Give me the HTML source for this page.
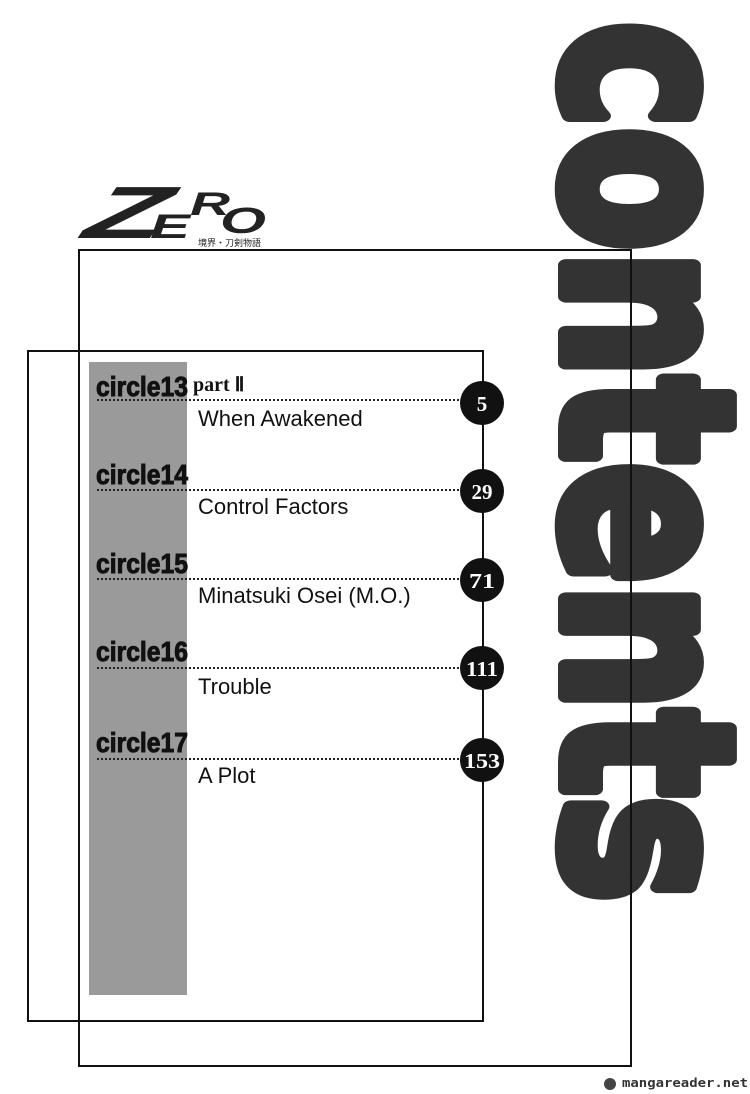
<!DOCTYPE html>
<html><head><meta charset="utf-8"><style>
html,body{margin:0;padding:0;background:#fff;}
svg{display:block;}
</style></head><body>
<svg width="750" height="1094" viewBox="0 0 750 1094" xmlns="http://www.w3.org/2000/svg">
<rect width="750" height="1094" fill="#fff"/>
<!-- contents vertical -->
<text transform="translate(566,22) rotate(90)" font-family="DejaVu Sans, Liberation Sans, sans-serif" font-weight="bold" font-size="232" fill="#333" stroke="#333" stroke-width="16" stroke-linejoin="round" textLength="880" lengthAdjust="spacingAndGlyphs">contents</text>
<!-- frames -->
<rect x="79" y="250" width="552" height="816" fill="none" stroke="#111" stroke-width="2"/>
<rect x="28" y="351" width="455" height="670" fill="none" stroke="#111" stroke-width="2"/>
<rect x="89" y="362" width="98" height="633" fill="#9a9a9a"/>
<!-- logo -->
<g font-family="Liberation Sans, sans-serif" font-weight="bold" font-style="italic" fill="#222">
<text x="84" y="238" font-size="74" transform="skewX(-18) translate(74,0)" textLength="80" lengthAdjust="spacingAndGlyphs">Z</text>
<text x="150" y="238" font-size="34" textLength="40" lengthAdjust="spacingAndGlyphs">E</text>
<text x="190" y="215" font-size="32" textLength="40" lengthAdjust="spacingAndGlyphs">R</text>
<text x="220" y="233" font-size="36" textLength="46" lengthAdjust="spacingAndGlyphs">O</text>
<text x="198" y="246" font-size="9" font-style="normal" font-weight="normal" font-family="Noto Sans CJK JP, sans-serif">境界・刀剣物語</text>
</g>
<!-- entries -->
<g font-family="Liberation Sans, sans-serif">
<g font-weight="bold" fill="#111" font-size="28" stroke="#111" stroke-width="1">
<text x="96" y="396" textLength="92" lengthAdjust="spacingAndGlyphs">circle13</text>
<text x="96" y="484" textLength="92" lengthAdjust="spacingAndGlyphs">circle14</text>
<text x="96" y="573" textLength="92" lengthAdjust="spacingAndGlyphs">circle15</text>
<text x="96" y="661" textLength="92" lengthAdjust="spacingAndGlyphs">circle16</text>
<text x="96" y="752" textLength="92" lengthAdjust="spacingAndGlyphs">circle17</text>
</g>
<text x="193" y="391" font-family="Liberation Serif, serif" font-weight="bold" font-size="20" fill="#111">part Ⅱ</text>
<g stroke="#222" stroke-width="2" stroke-dasharray="2,2">
<line x1="97" y1="400" x2="462" y2="400"/>
<line x1="97" y1="490" x2="462" y2="490"/>
<line x1="97" y1="579" x2="462" y2="579"/>
<line x1="97" y1="668" x2="462" y2="668"/>
<line x1="97" y1="759" x2="462" y2="759"/>
</g>
<g font-size="22" fill="#111">
<text x="198" y="426">When Awakened</text>
<text x="198" y="514">Control Factors</text>
<text x="198" y="603">Minatsuki Osei (M.O.)</text>
<text x="198" y="694">Trouble</text>
<text x="198" y="783">A Plot</text>
</g>
<g fill="#111">
<circle cx="482" cy="403" r="22"/>
<circle cx="482" cy="491" r="22"/>
<circle cx="482" cy="580" r="22"/>
<circle cx="482" cy="668" r="22"/>
<circle cx="482" cy="760" r="22"/>
</g>
<g fill="#fff" font-family="Liberation Serif, serif" font-weight="bold" font-size="21" text-anchor="middle">
<text x="482" y="411">5</text>
<text x="482" y="499">29</text>
<text x="482" y="588" textLength="26" lengthAdjust="spacingAndGlyphs">71</text>
<text x="482" y="676" textLength="32" lengthAdjust="spacingAndGlyphs">111</text>
<text x="482" y="768" textLength="36" lengthAdjust="spacingAndGlyphs">153</text>
</g>
</g>
<!-- watermark -->
<text x="622" y="1087" font-family="DejaVu Sans Mono, monospace" font-weight="bold" font-size="12" fill="#333" textLength="126" lengthAdjust="spacingAndGlyphs">mangareader.net</text>
<circle cx="610" cy="1084" r="6" fill="#444"/>
</svg>
</body></html>
